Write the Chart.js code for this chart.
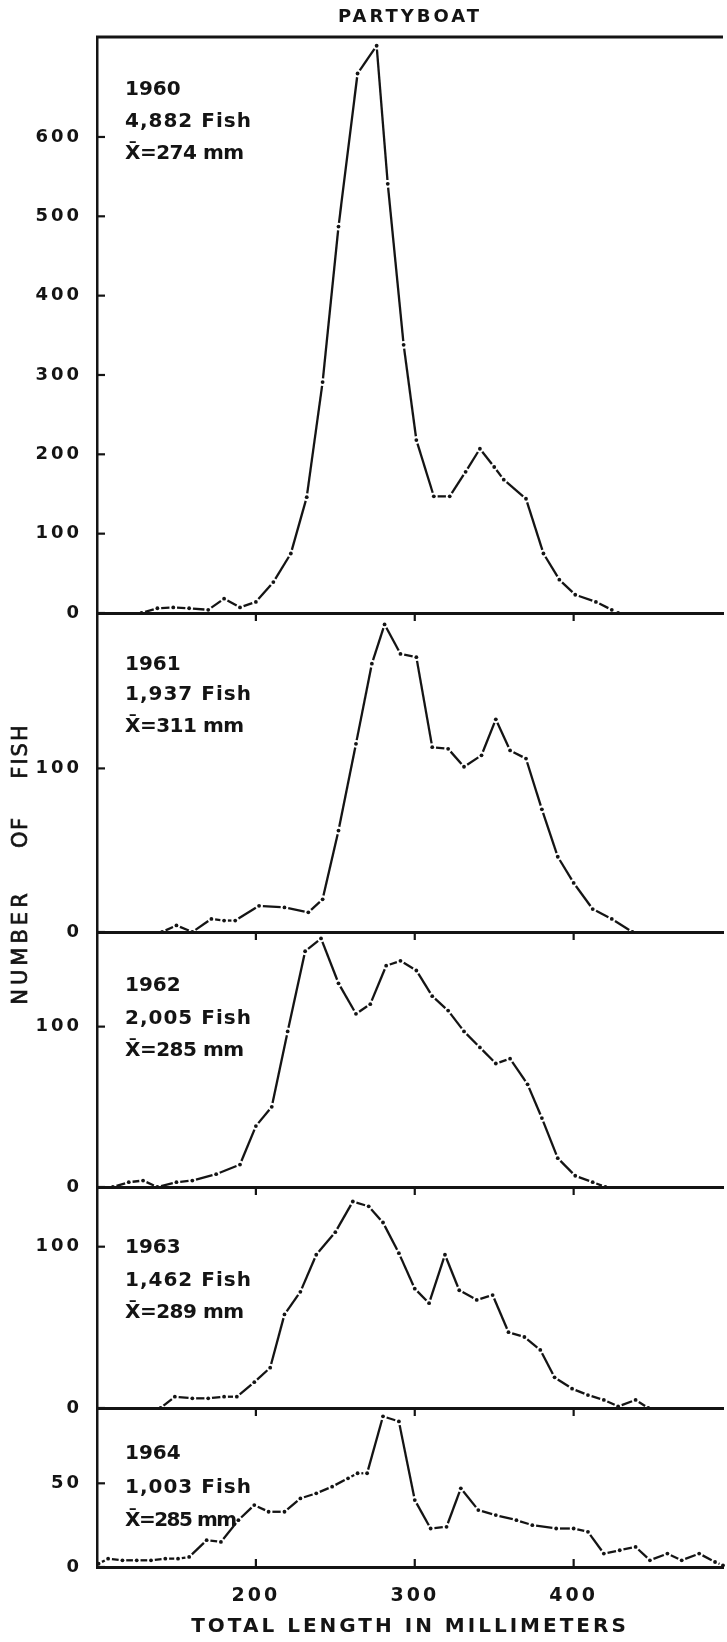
<!DOCTYPE html>
<html>
<head>
<meta charset="utf-8">
<script src="https://cdn.jsdelivr.net/npm/chart.js@4.4.0/dist/chart.umd.min.js"></script>
<style>
  html, body { margin: 0; padding: 0; background: #ffffff; }
  #wrap { position: relative; width: 727px; height: 1642px; overflow: hidden; background: #ffffff; }
  #wrap canvas { position: absolute; left: 0; top: 0; }
</style>
</head>
<body>
<div id="wrap">
  <canvas id="c0" width="727" height="1642"></canvas>
  <canvas id="c1" width="727" height="1642"></canvas>
  <canvas id="c2" width="727" height="1642"></canvas>
  <canvas id="c3" width="727" height="1642"></canvas>
  <canvas id="c4" width="727" height="1642"></canvas>
</div>
<script>
// ---------------- DATA ----------------
const chartTitle = 'PARTYBOAT';
const xAxisTitle = 'TOTAL LENGTH IN MILLIMETERS';
const yAxisWords = ['NUMBER', 'OF', 'FISH'];

const years = ['1960', '1961', '1962', '1963', '1964'];
const fishCounts = ['4,882 Fish', '1,937 Fish', '2,005 Fish', '1,462 Fish', '1,003 Fish'];
const meanLengths = ['X\u0304=274 mm', 'X\u0304=311 mm', 'X\u0304=285 mm', 'X\u0304=289 mm', 'X\u0304=285 mm'];

const xTickValues = [200, 300, 400];
const xMin = 100;
const xMax = 494;

const yTicks1960 = [0, 100, 200, 300, 400, 500, 600];
const yTicks1961 = [0, 100];
const yTicks1962 = [0, 100];
const yTicks1963 = [0, 100];
const yTicks1964 = [0, 50];
const yMaxByYear = [726, 195, 159, 137, 95];

// total length (mm) and number of fish
const len1960 = [128, 138, 148, 158, 170, 180, 190, 200, 211, 222, 232, 242, 252, 264, 276, 283, 293, 301, 312, 322, 332, 341, 350, 356, 370, 381, 391, 401, 414, 424, 428];
const num1960 = [0, 6, 7, 6, 4, 18, 7, 14, 39, 75, 146, 291, 487, 680, 715, 541, 338, 218, 147, 147, 178, 207, 184, 168, 144, 75, 42, 23, 14, 4, 0];

const len1961 = [141, 150, 160, 172, 180, 187, 202, 218, 233, 242, 252, 263, 273, 281, 291, 301, 311, 321, 331, 342, 351, 360, 370, 380, 390, 400, 412, 424, 437];
const num1961 = [0, 4, 0, 8, 7, 7, 16, 15, 12, 20, 62, 115, 164, 188, 170, 168, 113, 112, 101, 108, 130, 111, 106, 75, 46, 30, 14, 8, 0];

const len1962 = [110, 120, 129, 138, 150, 160, 175, 190, 200, 210, 220, 231, 241, 252, 263, 272, 282, 291, 301, 311, 321, 331, 341, 351, 360, 371, 380, 390, 401, 412, 420];
const num1962 = [0, 3, 4, 0, 3, 4, 8, 14, 38, 50, 97, 147, 155, 127, 108, 114, 138, 141, 135, 119, 110, 97, 87, 77, 80, 64, 43, 18, 7, 3, 0];

const len1963 = [140, 149, 160, 170, 180, 188, 199, 209, 218, 228, 238, 250, 261, 271, 280, 290, 300, 309, 319, 328, 339, 349, 359, 369, 379, 388, 399, 409, 419, 428, 439, 447];
const num1963 = [0, 7, 6, 6, 7, 7, 16, 25, 58, 72, 95, 109, 128, 125, 115, 96, 74, 65, 95, 73, 67, 70, 47, 44, 36, 19, 12, 8, 5, 1, 5, 0];

const len1964 = [101, 107, 116, 125, 134, 143, 151, 158, 169, 178, 189, 199, 208, 218, 228, 238, 248, 258, 264, 270, 280, 290, 300, 310, 320, 329, 340, 351, 364, 374, 389, 400, 409, 419, 429, 439, 448, 459, 468, 479, 489, 494];
const num1964 = [2, 5, 4, 4, 4, 5, 5, 6, 16, 15, 28, 37, 33, 33, 41, 44, 48, 53, 56, 56, 90, 87, 40, 23, 24, 47, 34, 31, 28, 25, 23, 23, 21, 8, 10, 12, 4, 8, 4, 8, 3, 1];

const lengthsByYear = [len1960, len1961, len1962, len1963, len1964];
const countsByYear = [num1960, num1961, num1962, num1963, num1964];
const yTicksByYear = [yTicks1960, yTicks1961, yTicks1962, yTicks1963, yTicks1964];

// ---------------- LAYOUT / STYLE ----------------
const W = 727, H = 1642;
const AXIS_LEFT = 97;
const panelTop = [37, 613, 932, 1187, 1408];
const panelBottom = [613, 932, 1187, 1408, 1567];
const textOffsets = [[53, 85, 117], [52, 82, 114], [54, 87, 119], [61, 94, 126], [46, 80, 113]];
const INK = '#141414';
const FONT = '"DejaVu Sans", "Liberation Sans", sans-serif';
const GAP = 3.8;

function segLength(c) { return Math.hypot(c.p1.x - c.p0.x, c.p1.y - c.p0.y); }
function dashFor(c) {
  const L = segLength(c);
  return L > 2 * GAP + 1 ? [L - 2 * GAP, 2 * GAP] : [0.01, L + 1];
}
function dashOffsetFor(c) {
  const L = segLength(c);
  return L > 2 * GAP + 1 ? L - GAP : 0;
}

const panelPlugin = {
  id: 'panel',
  beforeDraw(chart) {
    chart.ctx.letterSpacing = '3px';
  },
  afterDraw(chart, args, opts) {
    const k = opts.index;
    const ctx = chart.ctx;
    const area = chart.chartArea;
    const xs = chart.scales.x, ys = chart.scales.y;
    ctx.save();
    ctx.strokeStyle = INK;
    ctx.fillStyle = INK;
    ctx.setLineDash([]);
    // inward y tick marks
    ctx.lineWidth = 2.2;
    ys.ticks.forEach(t => {
      const py = ys.getPixelForValue(t.value);
      ctx.beginPath(); ctx.moveTo(area.left, py); ctx.lineTo(area.left + 8, py); ctx.stroke();
    });
    // x tick marks (down into the next panel, up on the last panel)
    xs.ticks.forEach(t => {
      const px = xs.getPixelForValue(t.value);
      ctx.beginPath();
      if (k < 4) { ctx.moveTo(px, area.bottom); ctx.lineTo(px, area.bottom + 8); }
      else { ctx.moveTo(px, area.bottom); ctx.lineTo(px, area.bottom - 8); }
      ctx.stroke();
    });
    // top frame of the first panel
    if (k === 0) {
      ctx.lineWidth = 3;
      ctx.beginPath(); ctx.moveTo(area.left - 1, area.top); ctx.lineTo(area.right, area.top); ctx.stroke();
    }
    // panel annotations
    ctx.textAlign = 'left';
    ctx.textBaseline = 'middle';
    const off = textOffsets[k];
    ctx.font = 'bold 20px ' + FONT;
    ctx.letterSpacing = '0px';
    ctx.fillText(years[k], 125, area.top + off[0]);
    ctx.letterSpacing = '1px';
    ctx.fillText(fishCounts[k], 125, area.top + off[1]);
    ctx.letterSpacing = k === 4 ? '-1.5px' : '-0.5px';
    ctx.fillText(meanLengths[k], 125, area.top + off[2]);
    // y axis title, drawn once
    if (k === 2) {
      ctx.font = '21px ' + FONT;
      ctx.textAlign = 'center';
      ctx.lineWidth = 0.7;
      const centers = [949, 833, 752];
      const spacing = [4, 1.5, 2];
      yAxisWords.forEach((w, i) => {
        ctx.save();
        ctx.letterSpacing = spacing[i] + 'px';
        ctx.translate(22, centers[i]);
        ctx.rotate(-Math.PI / 2);
        ctx.fillText(w, spacing[i] / 2, 0);
        ctx.strokeText(w, spacing[i] / 2, 0);
        ctx.restore();
      });
    }
    ctx.restore();
  }
};

function makePanel(k) {
  const last = k === 4;
  const xh = last ? H - panelBottom[k] : 2;
  const cfg = {
    type: 'line',
    data: {
      datasets: [{
        data: lengthsByYear[k].map((x, i) => ({ x: x, y: countsByYear[k][i] })),
        borderColor: INK,
        borderWidth: 2.3,
        pointRadius: 1.9,
        pointBackgroundColor: INK,
        pointBorderWidth: 0,
        tension: 0,
        fill: false,
        clip: 3,
        segment: { borderDash: dashFor, borderDashOffset: dashOffsetFor }
      }]
    },
    options: {
      responsive: false,
      animation: false,
      events: [],
      layout: { padding: { top: k === 0 ? 0 : panelTop[k], bottom: H - panelBottom[k] - xh, left: 0, right: 0 } },
      plugins: {
        legend: { display: false },
        tooltip: { enabled: false },
        title: {
          display: k === 0,
          text: chartTitle,
          fullSize: false,
          color: INK,
          font: { family: FONT, size: 18, weight: 'bold' },
          padding: { top: 7, bottom: 8.4 }
        },
        panel: { index: k }
      },
      scales: {
        x: {
          type: 'linear',
          min: xMin, max: xMax,
          afterBuildTicks: s => { s.ticks = xTickValues.map(v => ({ value: v })); },
          afterFit: s => { s.height = xh; },
          grid: { display: false },
          border: { display: true, color: INK, width: 3 },
          ticks: {
            display: last,
            autoSkip: false, maxRotation: 0,
            color: INK,
            font: { family: FONT, size: 19, weight: 'bold' },
            padding: 10
          },
          title: {
            display: last,
            text: xAxisTitle,
            color: INK,
            font: { family: FONT, size: 20, weight: 'bold' },
            padding: { top: 0, bottom: 3 }
          }
        },
        y: {
          type: 'linear',
          min: 0, max: yMaxByYear[k],
          afterBuildTicks: s => { s.ticks = yTicksByYear[k].map(v => ({ value: v })); },
          afterFit: s => { s.width = AXIS_LEFT; },
          grid: { display: false },
          border: { display: true, color: INK, width: 2.5 },
          ticks: {
            color: INK,
            font: { family: FONT, size: 18, weight: 'bold' },
            padding: 7
          }
        }
      }
    },
    plugins: [panelPlugin]
  };
  return new Chart(document.getElementById('c' + k), cfg);
}

for (let k = 0; k < 5; k++) makePanel(k);
</script>
</body>
</html>
